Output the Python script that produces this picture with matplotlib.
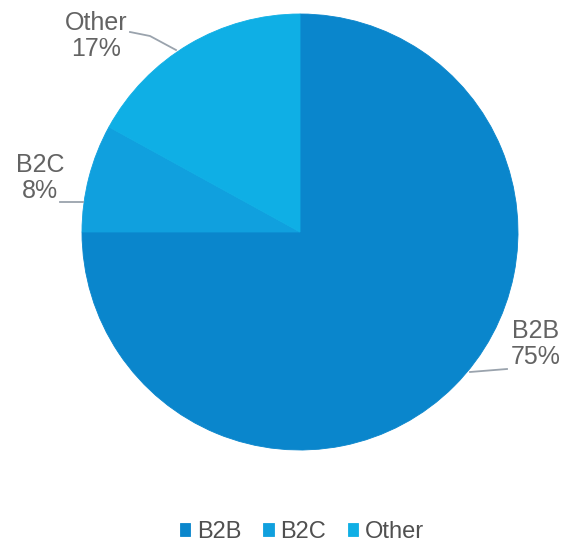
import matplotlib.pyplot as plt

labels = ['B2B', 'B2C', 'Other']
shares = [75, 8, 17]
colors = ['#0a86cc', '#10a0de', '#0fafe5']

W, H = 573, 545
fig = plt.figure(figsize=(W / 100, H / 100), dpi=100)
ax = fig.add_axes([0, 0, 1, 1])

cx, cy, r = 300, H - 232, 218
wedges, _ = ax.pie(shares, colors=colors, startangle=90, counterclock=False,
                   center=(cx, cy), radius=r, frame=True)
# hide the seams between wedges
for w in wedges:
    w.set_edgecolor(w.get_facecolor())
    w.set_linewidth(0.6)
ax.set_xlim(0, W)
ax.set_ylim(0, H)
ax.set_aspect('equal')
ax.axis('off')

txt = dict(color='#636363', fontsize=18, ha='center', va='center',
           linespacing=1.15, family='Liberation Sans')
line = dict(color='#9aa3ad', lw=1.3)

# callouts: label centre, leader line points (pixel coords, y from top)
callouts = [
    ((536, 344), [(507, 369), (470, 372)]),
    ((40, 178), [(60, 202), (83, 202)]),
    ((96, 36), [(130, 32), (150, 36), (176, 50)]),
]
for (lab, val), (pos, pts) in zip(zip(labels, shares), callouts):
    ax.text(pos[0], H - pos[1], f'{lab}\n{val}%', **txt)
    ax.plot([p[0] for p in pts], [H - p[1] for p in pts], **line)

leg = fig.legend(wedges, labels, loc='center', ncol=3, frameon=False,
                 bbox_to_anchor=(302 / W, 1 - 532 / H), handlelength=0.45,
                 handleheight=0.45, handletextpad=0.3, columnspacing=0.9,
                 prop={'family': 'Liberation Sans', 'size': 17})
for t in leg.get_texts():
    t.set_color('#505050')

fig.savefig('out.png', dpi=100)
